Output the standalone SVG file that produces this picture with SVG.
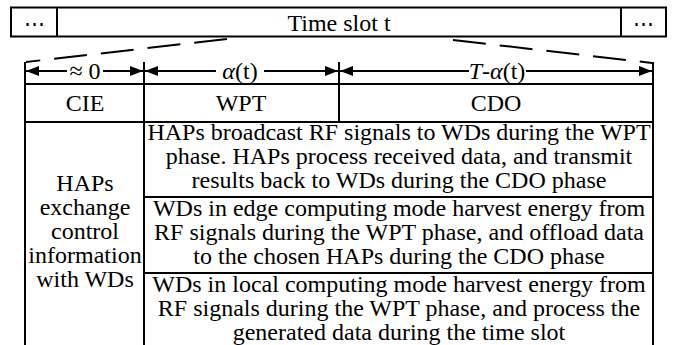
<svg xmlns="http://www.w3.org/2000/svg" width="678" height="345" viewBox="0 0 678 345">
<defs>
<style>
.t{font-family:"Liberation Serif","Times New Roman",serif;font-size:24px;fill:#000;text-anchor:middle}
.dots{font-family:"DejaVu Serif","Liberation Serif",serif;font-size:21px;fill:#000;text-anchor:middle}
.ln{stroke:#000;stroke-width:2;fill:none}
.dash{stroke:#000;stroke-width:2;stroke-dasharray:33 14;fill:none}
.arr{stroke:#000;stroke-width:2;fill:none;marker-start:url(#ah);marker-end:url(#ah)}
</style>
<marker id="ah" markerUnits="userSpaceOnUse" markerWidth="14" markerHeight="12" refX="13" refY="5" orient="auto-start-reverse">
<path d="M0,0 L13,5 L0,10 Z" fill="#000"/>
</marker>
</defs>
<rect width="678" height="345" fill="#fff"/>

<g id="timebar">
<rect x="11" y="7.5" width="655" height="29" class="ln" stroke-width="1.8"/>
<line x1="57" y1="7.5" x2="57" y2="36.5" class="ln"/>
<line x1="621" y1="7.5" x2="621" y2="36.5" class="ln"/>
<text x="34" y="31" class="dots">⋯</text>
<text x="339" y="31" class="t">Time slot t</text>
<text x="643" y="31" class="dots">⋯</text>
</g>

<g id="connectors">
<line x1="227" y1="39" x2="26" y2="62" class="dash"/>
<line x1="453" y1="40" x2="652" y2="63" class="dash"/>
<line x1="26" y1="71" x2="143" y2="71" class="arr"/>
<line x1="145" y1="71" x2="338" y2="71" class="arr"/>
<line x1="340" y1="71" x2="652" y2="71" class="arr"/>
</g>

<g id="table">
<line x1="25" y1="62" x2="25" y2="345" class="ln"/>
<line x1="144" y1="62" x2="144" y2="345" class="ln"/>
<line x1="339" y1="62" x2="339" y2="122" class="ln"/>
<line x1="653" y1="62" x2="653" y2="345" class="ln"/>
<line x1="25" y1="84" x2="653" y2="84" class="ln"/>
<line x1="25" y1="122" x2="653" y2="122" class="ln"/>
<line x1="144" y1="197" x2="653" y2="197" class="ln"/>
<line x1="144" y1="273" x2="653" y2="273" class="ln"/>
</g>

<g id="durations">
<rect x="67" y="60" width="36" height="22" fill="#fff"/>
<text x="85" y="79" class="t">≈ 0</text>
<rect x="216" y="60" width="48" height="22" fill="#fff"/>
<text x="240" y="79" class="t"><tspan font-style="italic">α</tspan>(t)</text>
<rect x="469" y="60" width="57" height="22" fill="#fff"/>
<text x="497" y="79" class="t"><tspan font-style="italic">T</tspan>-<tspan font-style="italic">α</tspan>(t)</text>
</g>

<g id="cie"><text x="85" y="111" class="t">CIE</text></g>
<g id="wpt"><text x="241" y="111" class="t">WPT</text></g>
<g id="cdo"><text x="496" y="111" class="t">CDO</text></g>

<g id="haps-control">
<text class="t"><tspan x="85" y="191">HAPs</tspan><tspan x="85" y="215">exchange</tspan><tspan x="85" y="239">control</tspan><tspan x="85" y="263">information</tspan><tspan x="85" y="287">with WDs</tspan></text>
</g>

<g id="row-haps">
<text class="t"><tspan x="399" y="140">HAPs broadcast RF signals to WDs during the WPT</tspan><tspan x="399" y="164">phase. HAPs process received data, and transmit</tspan><tspan x="399" y="188">results back to WDs during the CDO phase</tspan></text>
</g>

<g id="row-edge">
<text class="t"><tspan x="399" y="216">WDs in edge computing mode harvest energy from</tspan><tspan x="399" y="240">RF signals during the WPT phase, and offload data</tspan><tspan x="399" y="264">to the chosen HAPs during the CDO phase</tspan></text>
</g>

<g id="row-local">
<text class="t"><tspan x="399" y="292">WDs in local computing mode harvest energy from</tspan><tspan x="399" y="316">RF signals during the WPT phase, and process the</tspan><tspan x="399" y="340">generated data during the time slot</tspan></text>
</g>
</svg>
